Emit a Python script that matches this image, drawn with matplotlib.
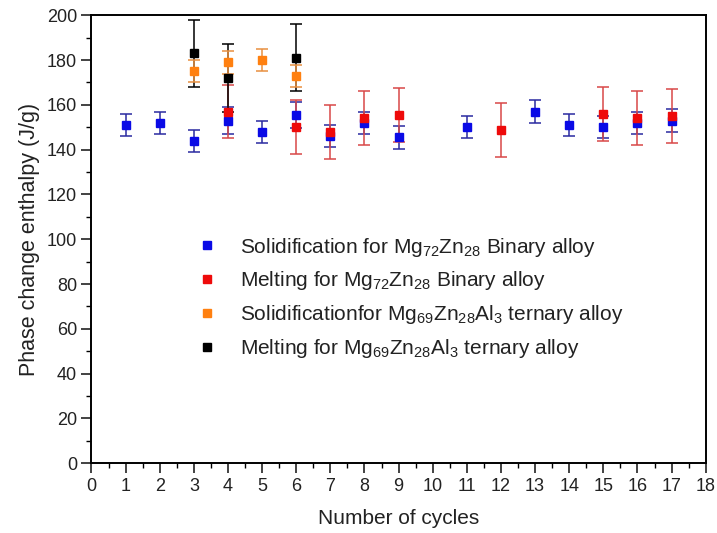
import matplotlib
matplotlib.use("Agg")
import matplotlib.pyplot as plt
from matplotlib.lines import Line2D

plt.rcParams['font.family'] = ['Liberation Sans', 'DejaVu Sans']
plt.rcParams['mathtext.fontset'] = 'custom'
plt.rcParams['mathtext.rm'] = 'Liberation Sans'
plt.rcParams['mathtext.it'] = 'Liberation Sans'

# Solidification, binary Mg72Zn28
sb_x = [1, 2, 3, 4, 5, 6, 7, 8, 9, 11, 13, 14, 15, 16, 17]
sb_y = [151, 152, 144, 153, 148, 155.5, 146, 152, 145.5, 150, 157, 151, 150, 152, 153]
sb_e = [5, 5, 5, 6, 5, 6, 5, 5, 5, 5, 5, 5, 5, 5, 5]

# Melting, binary Mg72Zn28
mb_x = [4, 6, 7, 8, 9, 12, 15, 16, 17]
mb_y = [157, 150, 148, 154, 155.5, 148.8, 156, 154, 155]
mb_e = [12, 12, 12, 12, 12, 12, 12, 12, 12]

# Solidification, ternary Mg69Zn28Al3
st_x = [3, 4, 5, 6]
st_y = [175, 179, 180, 173]
st_e = [5, 5, 5, 5]

# Melting, ternary Mg69Zn28Al3
mt_x = [3, 4, 6]
mt_y = [183, 172, 181]
mt_e = [15, 15, 15]

labels = [
    r'Solidification for Mg$_{\mathregular{72}}$Zn$_{\mathregular{28}}$ Binary alloy',
    r'Melting for Mg$_{\mathregular{72}}$Zn$_{\mathregular{28}}$ Binary alloy',
    r'Solidificationfor Mg$_{\mathregular{69}}$Zn$_{\mathregular{28}}$Al$_{\mathregular{3}}$ ternary alloy',
    r'Melting for Mg$_{\mathregular{69}}$Zn$_{\mathregular{28}}$Al$_{\mathregular{3}}$ ternary alloy',
]
colors = ['#0a0ae6', '#ee0a0a', '#ff8010', '#000000']
ecolors = ['#2a2aa0', '#d84848', '#e89040', '#000000']

fig = plt.figure(figsize=(7.17, 5.33), dpi=100)
ax = fig.add_axes([0.1276, 0.1308, 0.8567, 0.8405])

series = [(sb_x, sb_y, sb_e), (mb_x, mb_y, mb_e), (mt_x, mt_y, mt_e), (st_x, st_y, st_e)]
order = [0, 1, 3, 2]
for (xs, ys, es), i in zip(series, order):
    ax.errorbar(xs, ys, yerr=es, fmt='s', color=colors[i], ecolor=ecolors[i],
                markersize=6, elinewidth=1.1, capsize=4, capthick=1.1, zorder=3)

ax.set_xlim(0, 18)
ax.set_ylim(0, 200)
ax.set_xticks(range(0, 19))
ax.set_yticks(range(0, 201, 20))
ax.set_xticks([i + 0.5 for i in range(18)], minor=True)
ax.set_yticks(range(10, 200, 20), minor=True)
ax.tick_params(axis='both', which='major', direction='out', length=7, width=1.2,
               labelsize=13, colors='#222222')
ax.tick_params(axis='both', which='minor', direction='out', length=3.5, width=1.0)
for s in ax.spines.values():
    s.set_linewidth(1.4)

ax.set_xlabel('Number of cycles', fontsize=15, color='#222222', labelpad=10)
ax.set_ylabel('Phase change enthalpy (J/g)', fontsize=15.5, color='#222222', labelpad=5)

handles = [Line2D([], [], linestyle='none', marker='s', markersize=6, color=c) for c in colors]
ax.legend(handles, labels, loc='upper left', bbox_to_anchor=(0.132, 0.55), frameon=False,
          fontsize=15, labelspacing=0.52, handletextpad=0.85, handlelength=1.5,
          labelcolor='#222222')

fig.savefig('out.png', dpi=100)
